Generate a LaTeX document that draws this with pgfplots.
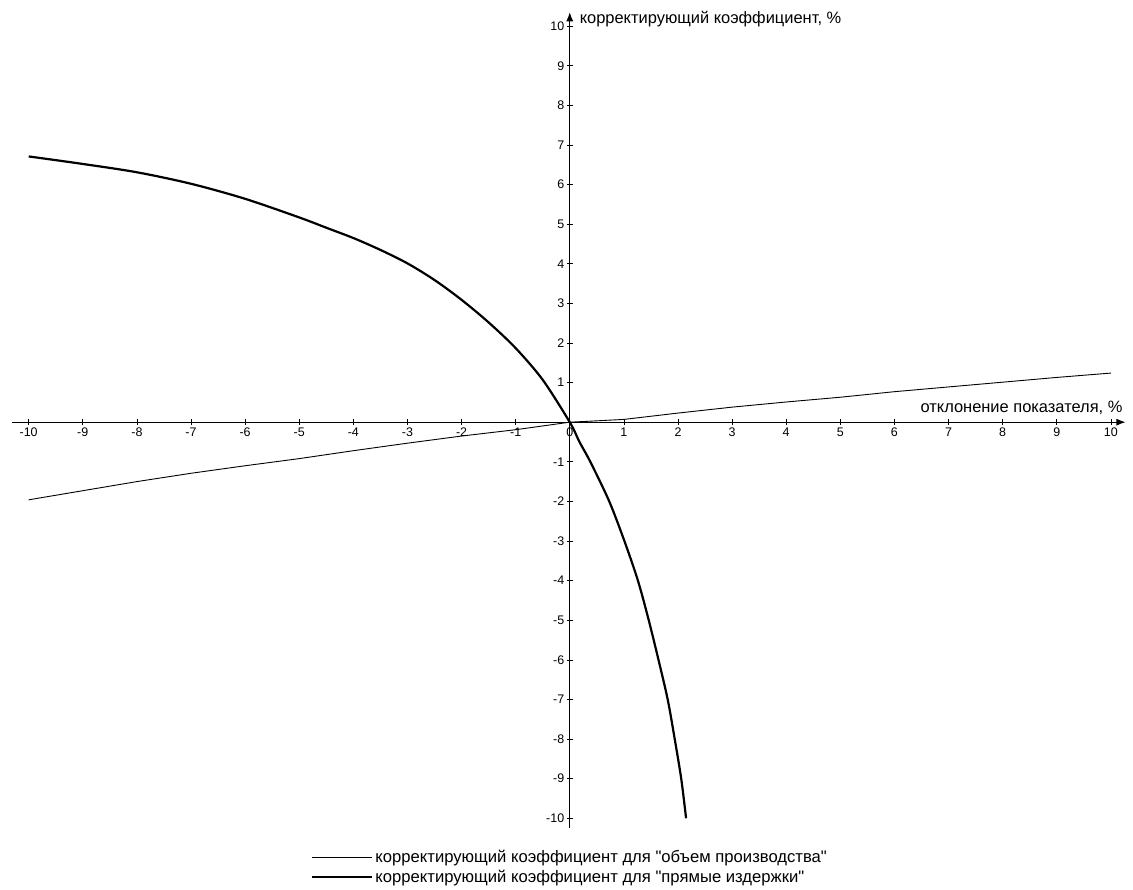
\documentclass[border=0pt]{standalone}
\usepackage{fontspec}
\setmainfont{Liberation Sans}[Ligatures=TeXOff]
\usepackage{pgfplots}
\pgfplotsset{compat=1.18}
\usetikzlibrary{arrows.meta}
\begin{document}
\begin{tikzpicture}
\begin{axis}[
  x=54.1bp, y=39.6bp,
  xmin=-10.3, xmax=10.27, ymin=-10.25, ymax=10.35,
  axis lines=middle,
  axis line style={line width=0.9bp, -{Latex[length=9bp,width=7bp]}},
  clip=false,
  hide obscured x ticks=false,
  xtick={-10,-9,-8,-7,-6,-5,-4,-3,-2,-1,0,1,2,3,4,5,6,7,8,9,10},
  xticklabels={-10,-9,-8,-7,-6,-5,-4,-3,-2,-1,0,1,2,3,4,5,6,7,8,9,10},
  ytick={-10,-9,-8,-7,-6,-5,-4,-3,-2,-1,1,2,3,4,5,6,7,8,9,10},
  yticklabels={-10,-9,-8,-7,-6,-5,-4,-3,-2,-1,1,2,3,4,5,6,7,8,9,10},
  tick align=center,
  major tick length=6bp,
  tick style={black, line width=0.6bp},
  xticklabel style={font=\fontsize{12.5}{14}\selectfont, anchor=north, yshift=1bp},
  yticklabel style={font=\fontsize{12.5}{14}\selectfont, anchor=east, xshift=1bp},
  every axis x label/.style={at={(axis cs:10.28,0.36)}, anchor=east, font=\fontsize{16.5}{19}\selectfont},
  every axis y label/.style={at={(axis cs:0.12,10.17)}, anchor=west, font=\fontsize{16.5}{19}\selectfont},
  xlabel={отклонение показателя, \%},
  ylabel={корректирующий коэффициент, \%},
  legend style={at={(axis description cs:0.2674,-0.0476)}, anchor=west, draw=none, fill=none,
    font=\fontsize{16.7}{19}\selectfont, row sep=1.5bp, inner sep=1bp},
  legend cell align=left,
  legend image code/.code={\draw[#1] (0bp,0bp) -- (53bp,0bp); \path (0bp,0bp) -- (60bp,0bp);},
]
\addplot[black, line width=0.9bp, line join=round] coordinates {
(-10,-1.96) (-9,-1.73) (-8,-1.50) (-7,-1.29) (-6,-1.10) (-5,-0.92) (-4,-0.72)
(-3,-0.53) (-2,-0.35) (-1,-0.19) (0,0) (0.3,0.02) (1,0.07) (2,0.23) (3,0.38) (4,0.51)
(5,0.63) (6,0.77) (7,0.89) (8,1.01) (9,1.13) (10,1.24)};
\addlegendentry{корректирующий коэффициент для "объем производства"}
\addplot[black, line width=2.2bp, smooth, line join=round] coordinates {
(-10,6.71) (-9,6.52) (-8,6.31) (-7,6.02) (-6,5.64) (-5,5.17) (-4.5,4.91) (-4,4.65)
(-3.5,4.35) (-3,4.01) (-2.5,3.59) (-2,3.09) (-1.5,2.52) (-1,1.87) (-0.5,1.07) (0,0)
(0.18,-0.5) (0.38,-1) (0.73,-2) (1.01,-3) (1.26,-4) (1.46,-5) (1.64,-6) (1.81,-7)
(1.94,-8) (2.06,-9) (2.15,-10)};
\addlegendentry{корректирующий коэффициент для "прямые издержки"}
\path (axis cs:-10.53,-11.79) rectangle (axis cs:10.41,10.66);
\end{axis}
\end{tikzpicture}
\end{document}
